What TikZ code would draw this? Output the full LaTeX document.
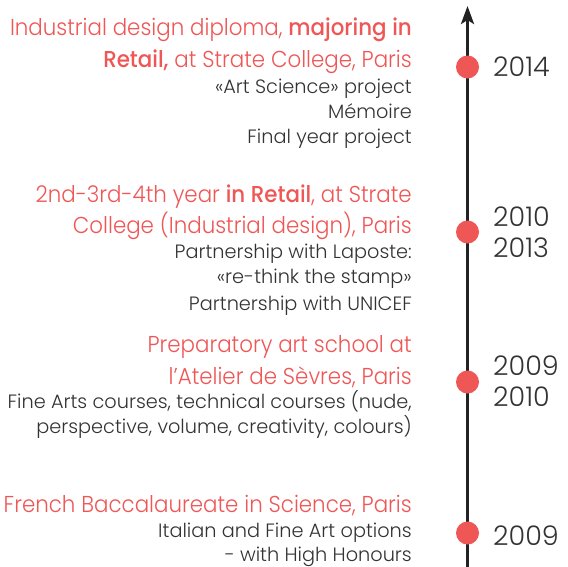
\documentclass[tikz,border=0pt]{standalone}
\usepackage{fontspec}
\usetikzlibrary{arrows.meta}
\IfFontExistsTF{Poppins Light}{%
  \IfFontExistsTF{Poppins Medium}{%
    \setmainfont{Poppins Light}[BoldFont={Poppins Medium}]%
    \newfontfamily\redfont{Poppins Light}[BoldFont={Poppins Medium},FakeStretch=0.93]%
  }{%
    \setmainfont{Poppins Light}%
    \newfontfamily\redfont{Poppins Light}[FakeStretch=0.93]%
  }%
}{\setmainfont{Poppins}\newfontfamily\redfont{Poppins}[FakeStretch=0.93]}
\definecolor{redc}{HTML}{EF5656}
\definecolor{txtc}{HTML}{333333}
\definecolor{axisc}{HTML}{222222}
\tikzset{
  ttl/.style={anchor=base east, inner sep=0pt, text=redc, font=\redfont\fontsize{23}{23}\selectfont},
  dtl/.style={anchor=base east, inner sep=0pt, text=txtc, font=\fontsize{19.3}{19.3}\selectfont},
  yr/.style={anchor=base west, inner sep=0pt, text=txtc, font=\fontsize{27}{27}\selectfont},
  dotc/.style={circle, fill=redc, minimum size=23pt, inner sep=0pt},
  axisl/.style={draw=axisc, line width=3pt, -{Stealth[length=18pt,width=13pt,inset=4pt]}}
}
\begin{document}
\begin{tikzpicture}[x=1pt,y=-1pt]
\useasboundingbox (0,0) rectangle (568,566);
\coordinate (bot) at (467.5,570);
\coordinate (top) at (467.5,6);
\draw[axisl] (bot) -- (top);
\node[dotc] (p1) at (467.5,67) {};
\node[dotc] (p2) at (467.5,232) {};
\node[dotc] (p3) at (467.5,382) {};
\node[dotc] (p4) at (467.5,533) {};
% years
\node[yr] (y1) at (493,76) {2014};
\node[yr] (y2a) at (493,226) {2010};
\node[yr] (y2b) at (493,257) {2013};
\node[yr] (y3a) at (493,375) {2009};
\node[yr] (y3b) at (493,406) {2010};
\node[yr] (y4) at (493,545) {2009};
% block 1
\node[ttl] (t1a) at (412,35) {Industrial design diploma, \textbf{majoring in}};
\node[ttl] (t1b) at (412,67) {\textbf{Retail,} at Strate College, Paris};
\node[dtl] (d1a) at (412,93) {«Art Science» project};
\node[dtl] (d1b) at (412,118) {Mémoire};
\node[dtl] (d1c) at (412,143) {Final year project};
% block 2
\node[ttl] (t2a) at (412,202) {2nd-3rd-4th year \textbf{in Retail}, at Strate};
\node[ttl] (t2b) at (412,233) {College (Industrial design), Paris};
\node[dtl] (d2a) at (412,258) {Partnership with Laposte:};
\node[dtl] (d2b) at (412,283) {«re-think the stamp»};
\node[dtl] (d2c) at (412,310) {Partnership with UNICEF};
% block 3
\node[ttl] (t3a) at (412,352) {Preparatory art school at};
\node[ttl] (t3b) at (412,384) {l’Atelier de Sèvres, Paris};
\node[dtl] (d3a) at (412,408) {Fine Arts courses, technical courses (nude,};
\node[dtl] (d3b) at (412,433) {perspective, volume, creativity, colours)};
% block 4
\node[ttl] (t4a) at (412,512) {French Baccalaureate in Science, Paris};
\node[dtl] (d4a) at (412,537) {Italian and Fine Art options};
\node[dtl] (d4b) at (412,561.5) {- with High Honours};
\end{tikzpicture}
\end{document}
